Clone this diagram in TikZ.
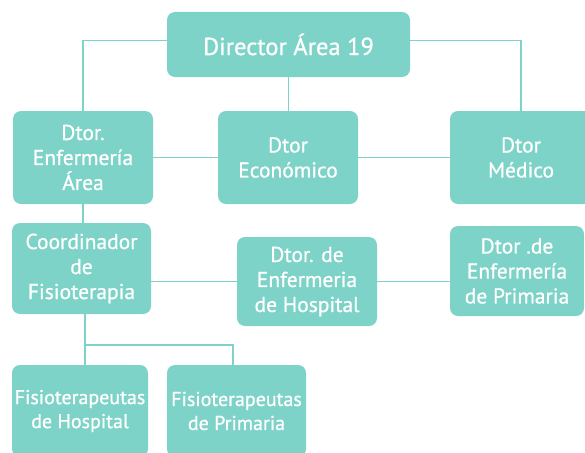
\documentclass[tikz,border=0pt]{standalone}
\usepackage{fontspec}
\setmainfont{PT Sans}[FakeBold=0.8]
\definecolor{aqua}{RGB}{126,211,200}

\begin{document}
\begin{tikzpicture}[x=1pt,y=-1pt,
	box/.style={rectangle, rounded corners=8pt, fill=aqua, text=white, align=center, inner sep=0pt, font=\fontsize{21.5}{25}\selectfont},
	link/.style={draw=aqua, line width=1.2pt}]
	
	\useasboundingbox (0,0) rectangle (585,452);
	%
	% THE BOXES
	% TOP ROW
	\node[box, minimum width=243pt, minimum height=65pt, font=\fontsize{24.5}{28}\selectfont] (dir) at (288.5,44.5) {Director Área 19};
	% SECOND ROW
	\node[box, minimum width=140pt, minimum height=93pt] (enf) at (83,157.5) {Dtor.\\Enfermería\\Área};
	\node[box, minimum width=140pt, minimum height=93pt] (econ) at (288,157.5) {Dtor\\Económico};
	\node[box, minimum width=142pt, minimum height=93pt] (med) at (521,157.5) {Dtor\\Médico};
	% THIRD ROW
	\node[box, minimum width=139pt, minimum height=91pt] (coord) at (81.5,268.5) {Coordinador\\de\\Fisioterapia};
	\node[box, minimum width=140pt, minimum height=89pt] (hosp) at (307,281.5) {Dtor. de\\Enfermeria\\de Hospital};
	\node[box, minimum width=134pt, minimum height=90pt] (prim) at (517,271) {Dtor .de\\Enfermería\\de Primaria};
	% BOTTOM ROW
	\node[box, minimum width=136pt, minimum height=92pt, font=\fontsize{20}{24}\selectfont] (fh) at (80,411) {Fisioterapeutas\\de Hospital};
	\node[box, minimum width=139pt, minimum height=92pt, font=\fontsize{20}{24}\selectfont] (fp) at (236.5,411) {Fisioterapeutas\\de Primaria};
	\coordinate (split) at (85,345);
	%
	% THE LINKS
	\draw[link] ([yshift=4pt]dir.west) -| (enf.north);
	\draw[link] ([yshift=4pt]dir.east) -| (med.north);
	\draw[link] (dir.south) -- (dir.south |- econ.north);
	\draw[link] (enf.east) -- (econ.west);
	\draw[link] (econ.east) -- (med.west);
	\draw[link] (enf.south) -- (enf.south |- coord.north);
	\draw[link] (hosp.west) -- (hosp.west -| coord.east);
	\draw[link] (hosp.east) -- (hosp.east -| prim.west);
	\draw[link] (coord.south -| split) -- (split) -- (split |- fh.north);
	\draw[link] (split) -| ([xshift=-3.5pt]fp.north);
\end{tikzpicture}
\end{document}
